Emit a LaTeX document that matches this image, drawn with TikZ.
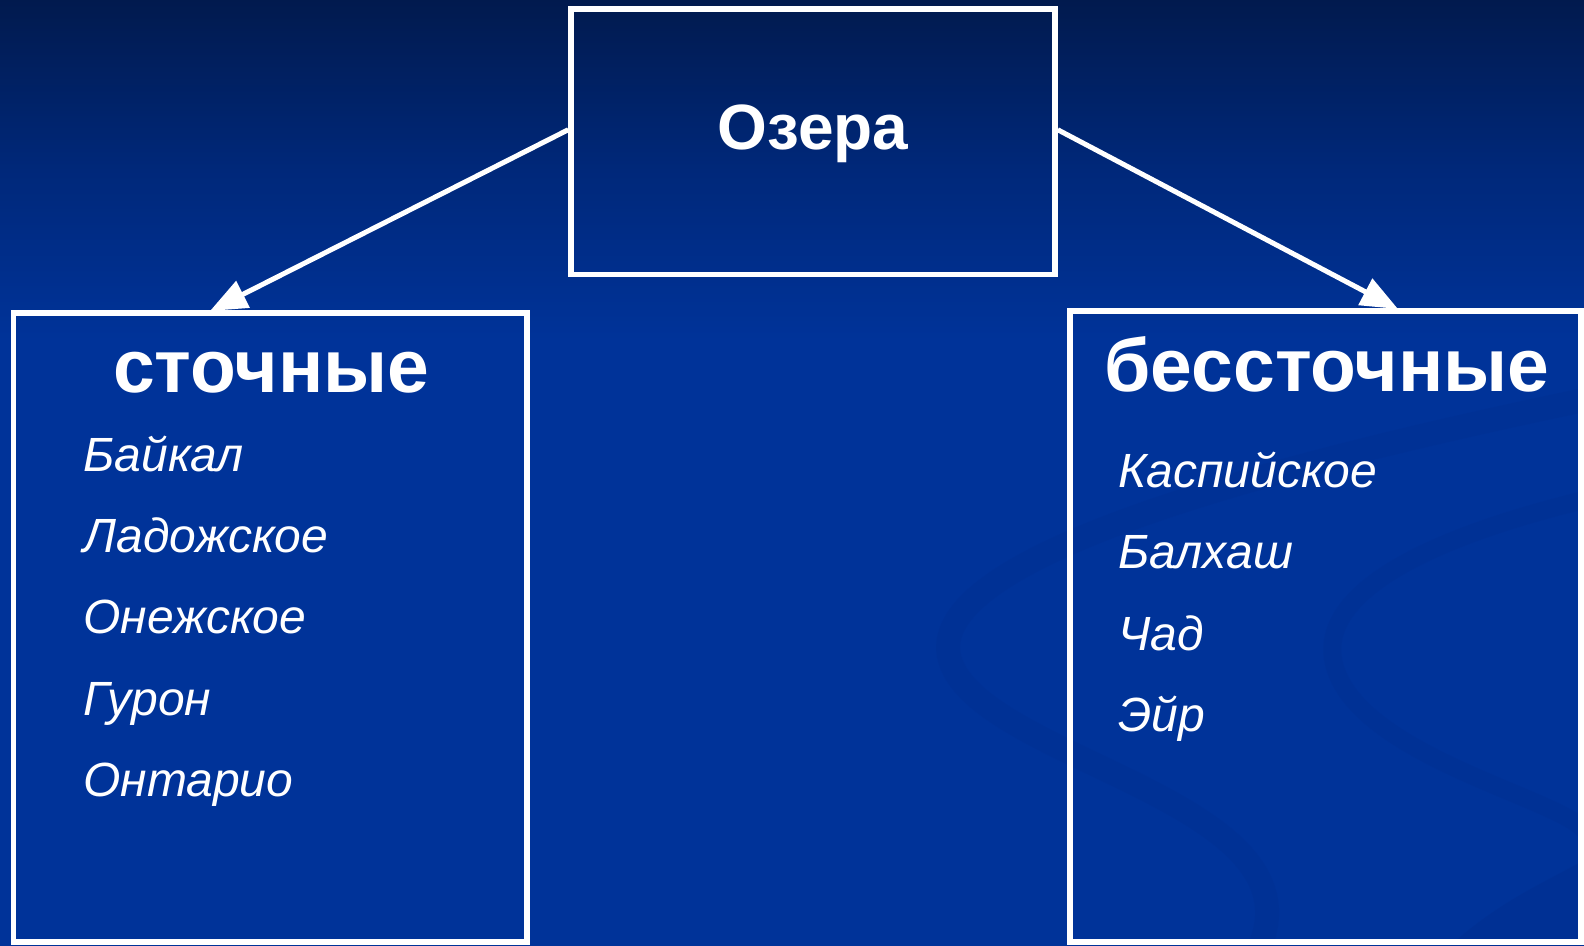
\documentclass[tikz,border=0pt]{standalone}
\usepackage{fontspec}
\setmainfont{Liberation Sans}
\usetikzlibrary{arrows.meta}
\definecolor{bgtop}{HTML}{011A4E}
\definecolor{bgmid}{HTML}{00287A}
\definecolor{bgbot}{HTML}{003399}
\definecolor{swirlc}{HTML}{002F90}
\tikzset{
  frame/.style={draw=white, line width=2.75pt, rectangle, inner sep=0pt},
  conn/.style={draw=white, line width=2.5pt, -{Triangle[length=18.5pt,width=14.5pt]}},
  headtext/.style={text=white, font=\bfseries\fontsize{37.5}{40}\selectfont, anchor=base, inner sep=0pt},
  toptext/.style={text=white, font=\bfseries\fontsize{32}{35}\selectfont, anchor=base, inner sep=0pt},
  itemtext/.style={text=white, font=\itshape\fontsize{24}{28}\selectfont, anchor=base west, inner sep=0pt},
  swirl/.style={draw=swirlc, line cap=round, opacity=0.35}
}
\begin{document}
\begin{tikzpicture}[x=0.5pt, y=-0.5pt]
\useasboundingbox (0,0) rectangle (1584,946);
\begin{scope}
\clip (0,0) rectangle (1584,946);
% background
\fill[bgbot] (0,0) rectangle (1584,946);
\shade[top color=bgtop, bottom color=bgbot, middle color=bgmid] (0,0) rectangle (1584,340);
% faint swirls
\draw[swirl, line width=12pt] (1584,400) .. controls (1250,470) and (920,560) .. (950,660) .. controls (980,760) and (1320,800) .. (1260,946);
\draw[swirl, line width=9pt] (1584,500) .. controls (1420,540) and (1300,600) .. (1340,680) .. controls (1380,760) and (1560,800) .. (1584,830);
\fill[swirlc, opacity=0.5] (1450,946) .. controls (1500,900) and (1550,880) .. (1584,860) -- (1584,946) -- cycle;
\end{scope}
% boxes
\node[frame, minimum width=242pt, minimum height=132.75pt] (lakes) at (813,141.75) {};
\node[frame, minimum width=256.75pt, minimum height=314.5pt] (flow) at (270.25,627.5) {};
\node[frame, minimum width=255.5pt, minimum height=315.5pt] (noflow) at (1325.5,626.5) {};
% titles
\node[toptext] (lakest) at (813,150) {Озера};
\node[headtext] (flowt) at (271,393) {сточные};
\node[headtext] (noflowt) at (1327,392) {бессточные};
% items left
\node[itemtext] (l1) at (83,471) {Байкал};
\node[itemtext] (l2) at (83,552) {Ладожское};
\node[itemtext] (l3) at (83,633) {Онежское};
\node[itemtext] (l4) at (83,715) {Гурон};
\node[itemtext] (l5) at (83,796) {Онтарио};
% items right
\node[itemtext] (r1) at (1118,487) {Каспийское};
\node[itemtext] (r2) at (1118,568) {Балхаш};
\node[itemtext] (r3) at (1118,650) {Чад};
\node[itemtext] (r4) at (1118,731) {Эйр};
% connectors
\coordinate (ltip) at (210,311);
\coordinate (rtip) at (1398,309);
\draw[conn] ([yshift=6pt]lakes.west) -- (ltip);
\draw[conn] ([yshift=6pt]lakes.east) -- (rtip);
\end{tikzpicture}
\end{document}
